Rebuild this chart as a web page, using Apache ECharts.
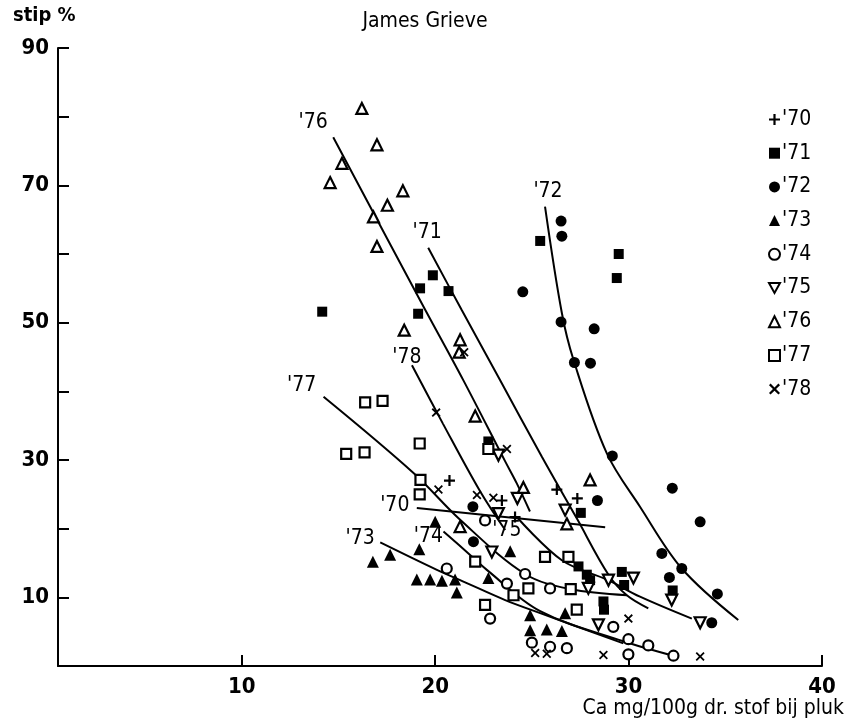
<!DOCTYPE html>
<html>
<head>
<meta charset="utf-8">
<script src="https://cdn.jsdelivr.net/npm/echarts@6/dist/echarts.min.js"></script>
<style>
  html, body { margin: 0; padding: 0; background: #fff; }
  #chart { width: 855px; height: 723px; }
</style>
</head>
<body>
<div id="chart"></div>
<script>
// Fruit-spot percentage (stip %) against calcium content at harvest, cultivar James Grieve

const years = ["'70", "'71", "'72", "'73", "'74", "'75", "'76", "'77", "'78"];

const xTicks = [10, 20, 30, 40];
const yTicks = [10, 20, 30, 40, 50, 60, 70, 80, 90];
const yTickLabels = ["10", "", "30", "", "50", "", "70", "", "90"];

// measured points per year [Ca mg/100g, stip %]
const pts70 = [[20.74, 27.0], [23.45, 24.1], [24.13, 21.7], [26.29, 25.7], [27.35, 24.4]];
const pts71 = [[19.88, 56.9], [19.22, 55.0], [20.69, 54.6], [19.12, 51.3], [14.16, 51.6],
  [25.43, 61.9], [29.49, 60.0], [29.39, 56.5], [22.75, 32.7], [27.53, 22.3],
  [27.41, 14.5], [27.84, 13.3], [28.01, 12.5], [29.65, 13.7], [29.77, 11.8],
  [28.70, 9.4], [28.73, 8.2], [32.28, 11.0]];
const pts72 = [[26.51, 64.8], [26.55, 62.6], [24.53, 54.5], [26.51, 50.1], [28.22, 49.1],
  [27.20, 44.2], [28.03, 44.1], [29.16, 30.6], [28.39, 24.1], [32.26, 25.9],
  [33.70, 21.0], [31.72, 16.4], [32.75, 14.2], [32.11, 12.9], [34.59, 10.5],
  [34.30, 6.3], [21.95, 23.2], [21.98, 18.1]];
const pts73 = [[16.78, 15.2], [17.67, 16.2], [20.00, 21.0], [19.18, 17.0], [19.05, 12.6],
  [19.74, 12.6], [20.35, 12.4], [21.03, 12.6], [21.12, 10.7], [22.75, 12.8],
  [23.88, 16.7], [24.91, 7.4], [26.72, 7.7], [24.91, 5.2], [25.77, 5.3], [26.55, 5.1]];
const pts74 = [[20.60, 14.2], [22.58, 21.2], [22.84, 6.9], [23.71, 12.0], [24.65, 13.4],
  [25.94, 11.3], [25.00, 3.4], [25.94, 2.8], [26.81, 2.6], [29.21, 5.7],
  [29.99, 3.9], [31.02, 3.0], [32.32, 1.5], [29.99, 1.7]];
const pts75 = [[23.27, 30.7], [24.25, 24.4], [23.27, 22.2], [22.93, 16.6], [26.72, 22.7],
  [28.96, 12.5], [30.25, 12.8], [27.92, 11.3], [28.44, 6.0], [32.23, 9.6], [33.70, 6.3]];
const pts76 = [[16.21, 81.2], [16.99, 75.9], [15.18, 73.2], [14.57, 70.4], [18.33, 69.2],
  [17.53, 67.1], [16.81, 65.4], [16.99, 61.1], [18.40, 48.9], [21.29, 47.5],
  [21.24, 45.7], [22.07, 36.4], [24.56, 26.0], [21.29, 20.3], [28.01, 27.1], [26.81, 20.7]];
const pts77 = [[16.38, 38.4], [17.28, 38.6], [15.40, 30.9], [16.35, 31.1], [19.20, 32.4],
  [19.24, 27.1], [19.20, 25.0], [22.75, 31.6], [22.07, 15.2], [22.58, 8.9],
  [24.05, 10.3], [25.68, 15.9], [26.89, 15.9], [24.82, 11.3], [27.01, 11.2], [27.32, 8.2]];
const pts78 = [[20.05, 36.9], [20.17, 25.7], [22.16, 24.9], [23.01, 24.5], [23.71, 31.6],
  [21.50, 45.7], [29.99, 6.9], [28.70, 1.6], [33.70, 1.4], [25.17, 1.9], [25.77, 1.8]];

// fitted curves per year
const fit70 = [[19.05, 23.0], [28.79, 20.2]];
const fit71 = [[19.64, 60.9], [21.38, 51.8], [23.36, 41.6], [25.51, 30.5], [27.32, 21.5],
  [28.96, 13.3], [29.91, 10.3], [31.02, 8.4]];
const fit72 = [[25.68, 66.9], [26.55, 51.4], [27.15, 44.6], [28.87, 31.0], [30.59, 23.2],
  [32.75, 14.2], [35.67, 6.7]];
const fit73 = [[17.16, 18.0], [20.09, 14.0], [21.46, 12.3], [23.62, 9.6], [25.43, 7.7], [29.73, 3.3]];
const fit74 = [[20.43, 19.6], [21.72, 16.4], [22.67, 14.0], [25.43, 8.0], [29.73, 3.6], [32.30, 1.5]];
const fit75 = [[24.22, 21.7], [26.55, 15.4], [28.94, 12.5], [30.59, 10.1], [33.27, 6.9]];
const fit76 = [[14.73, 77.0], [19.31, 52.8], [21.46, 41.6], [23.62, 29.8], [24.22, 26.6], [24.90, 22.5]];
const fit77 = [[14.23, 39.2], [18.88, 28.1], [21.29, 21.3], [24.65, 13.4], [26.98, 11.2], [29.92, 10.3]];
const fit78 = [[18.80, 43.8], [20.40, 35.3], [22.33, 25.4], [23.62, 19.8]];

const pointSets = [pts70, pts71, pts72, pts73, pts74, pts75, pts76, pts77, pts78];
const fitSets = [fit70, fit71, fit72, fit73, fit74, fit75, fit76, fit77, fit78];

const INK = '#000';
const FONT = 'DejaVu Sans Condensed';
const textBase = { fontFamily: FONT, fontWeight: 'bold', color: INK };

const PLUS = 'path://M4,0H6V4H10V6H6V10H4V6H0V4H4Z';
const CROSS = 'path://M0,1.4L1.4,0L5,3.6L8.6,0L10,1.4L6.4,5L10,8.6L8.6,10L5,6.4L1.4,10L0,8.6L3.6,5Z';
const DOWN = 'path://M0,0L10,0L5,9Z';

const filled = { color: INK, borderWidth: 0, opacity: 1 };
const hollow = { color: '#fff', borderColor: INK, borderWidth: 2.2, opacity: 1 };
const markerStyles = [
  { symbol: PLUS, size: 11, style: filled },
  { symbol: 'rect', size: 10, style: filled },
  { symbol: 'circle', size: 11, style: filled },
  { symbol: 'triangle', size: 12, style: filled },
  { symbol: 'circle', size: 10, style: hollow },
  { symbol: DOWN, size: 11, style: hollow },
  { symbol: 'triangle', size: 11, style: hollow },
  { symbol: 'rect', size: 10, style: hollow },
  { symbol: CROSS, size: 9, style: filled }
];

// label offsets (px) of each curve's year tag from the curve's first point
const tagOffsets = [[-22, -3], [-1, -15], [3, -15], [-20, -4], [-15, 5], [-10, 14], [-20, -15], [-22, -11], [-5, -8]];

const series = [];
fitSets.forEach((fit, i) => {
  series.push({
    name: 'fit' + years[i],
    type: 'line',
    data: fit.map((p, k) => k === 0 ? {
      value: p,
      label: Object.assign({
        show: true, formatter: years[i], position: tagOffsets[i],
        align: 'center', verticalAlign: 'middle', fontSize: 21
      }, textBase, { fontWeight: 'normal' })
    } : p),
    smooth: 0.35,
    symbol: 'circle',
    symbolSize: 0,
    showSymbol: true,
    lineStyle: { color: INK, width: 2 },
    itemStyle: { color: INK },
    silent: true,
    z: 2
  });
});
pointSets.forEach((pts, i) => {
  const m = markerStyles[i];
  series.push({
    name: years[i],
    type: 'scatter',
    data: pts,
    symbol: m.symbol,
    symbolSize: m.size,
    itemStyle: m.style,
    z: 3
  });
});

const chart = echarts.init(document.getElementById('chart'), null, { renderer: 'canvas' });
chart.setOption({
  animation: false,
  backgroundColor: '#fff',
  title: [
    { text: 'James Grieve', left: 420, top: 6, textAlign: 'center',
      textStyle: Object.assign({ fontSize: 21 }, textBase, { fontWeight: 'normal' }) },
    { text: 'stip %', left: 8, top: 1,
      textStyle: Object.assign({ fontSize: 20 }, textBase) },
    { text: 'Ca mg/100g dr. stof bij pluk', right: 6, top: 693,
      textStyle: Object.assign({ fontSize: 21 }, textBase, { fontWeight: 'normal' }) }
  ],
  legend: {
    orient: 'vertical',
    left: 763,
    top: 104,
    data: years,
    itemWidth: 11,
    itemHeight: 11,
    itemGap: 12.7,
    selectedMode: false,
    textStyle: Object.assign({ fontSize: 21, padding: [0, 0, 0, -3] }, textBase, { fontWeight: 'normal' })
  },
  grid: { left: 58, right: 33, top: 48, bottom: 57, containLabel: false },
  xAxis: {
    type: 'value',
    min: 0.5,
    max: 40,
    splitLine: { show: false },
    axisLine: { lineStyle: { color: INK, width: 2 } },
    axisTick: { inside: true, length: 11, customValues: xTicks, lineStyle: { color: INK, width: 2 } },
    axisLabel: Object.assign({ customValues: xTicks, fontSize: 22, margin: 10 }, textBase)
  },
  yAxis: {
    type: 'value',
    min: 0,
    max: 90,
    splitLine: { show: false },
    axisLine: { lineStyle: { color: INK, width: 2 } },
    axisTick: { inside: true, length: 11, customValues: yTicks, lineStyle: { color: INK, width: 2 } },
    axisLabel: Object.assign({
      customValues: yTicks,
      formatter: v => yTickLabels[yTicks.indexOf(v)],
      fontSize: 22, margin: 9
    }, textBase)
  },
  series: series
});
</script>
</body>
</html>
